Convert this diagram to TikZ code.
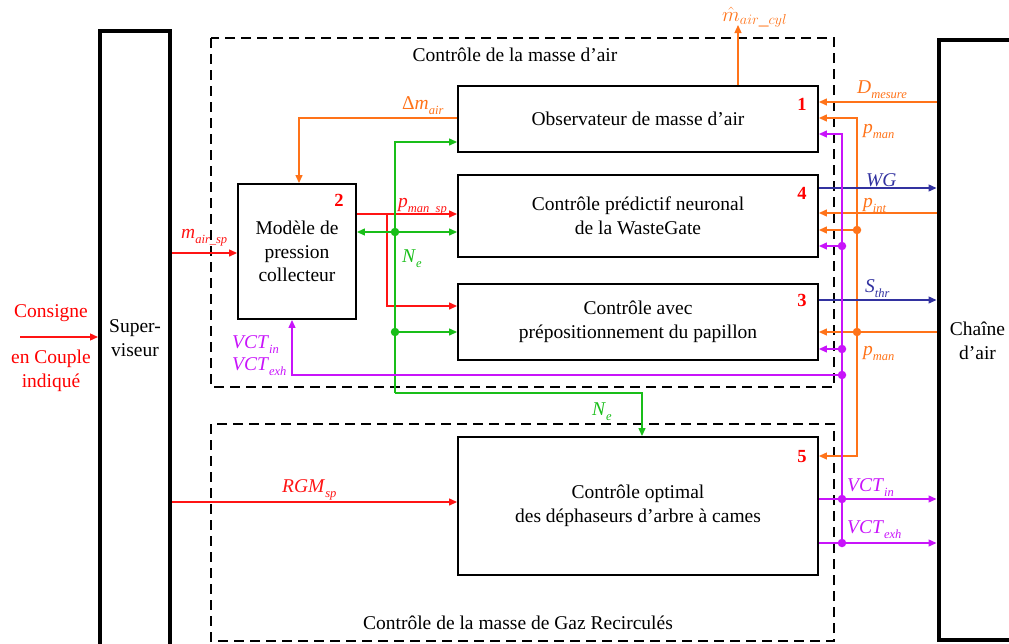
\documentclass[tikz,border=0pt]{standalone}
\usepackage{fontspec}
\setmainfont{Liberation Serif}
\usetikzlibrary{arrows.meta,positioning,calc}

\definecolor{SigRed}{RGB}{255,20,20}
\definecolor{SigOrange}{RGB}{255,115,25}
\definecolor{SigGreen}{RGB}{25,190,25}
\definecolor{SigViolet}{RGB}{200,20,250}
\definecolor{SigBlue}{RGB}{50,50,160}

\newcommand{\sgl}[2]{\textit{#1}\raisebox{-5pt}{\fontsize{12.5}{13}\selectfont\itshape #2}}
\newcommand{\diagfont}{\fontsize{19.5}{23.5}\selectfont}

\begin{document}
\begin{tikzpicture}[x=1pt, y=-1pt, font=\diagfont,
    blk/.style={draw, line width=1.9pt, minimum width=360pt, align=center, inner sep=0pt},
    heavybox/.style={draw, line width=4pt, inner sep=0pt},
    zone/.style={draw, line width=2.5pt, dash pattern=on 10pt off 6pt},
    arr/.style={-{Triangle[length=8pt,width=7pt]}},
    wire/.style={line width=1.3pt},
    num/.style={text=red, font=\fontsize{18.5}{20}\selectfont\bfseries, anchor=base},
    lbl/.style={anchor=base west, inner sep=0pt},
    dot/.style={circle, fill, inner sep=0pt, minimum size=8.5pt}]
    \useasboundingbox (0,0) rectangle (1009,643);

    % zones
    \draw[zone] (211,38) rectangle (834,387);
    \draw[zone] (211,424) rectangle (834,641);
    \node (tAir) at (515,55) {Contrôle de la masse d'air};
    \node (tGaz) at (518,623) {Contrôle de la masse de Gaz Recirculés};

    % blocks
    \node[heavybox, minimum width=70pt, minimum height=629pt] (sup) at (135,345.5) {};
    \node[align=center] (supT) at (135,338) {Super-\\viseur};
    \node[heavybox, minimum width=92pt, minimum height=600pt] (chaine) at (984.5,340) {};
    \node[align=center] (chT) at (977.5,341) {Chaîne\\d'air};
    \node[blk, minimum height=66pt] (obs) at (638,119) {Observateur de masse d'air};
    \node[blk, minimum height=82pt] (pred) at (638,216) {Contrôle prédictif neuronal\\de la WasteGate};
    \node[blk, minimum height=76pt] (papi) at (638,322) {Contrôle avec\\prépositionnement du papillon};
    \node[blk, minimum height=138pt] (cam) at (638,506) {Contrôle optimal\\des déphaseurs d'arbre à cames};
    \node[blk, minimum width=118pt, minimum height=135pt] (modele) at (297,251.5) {Modèle de\\pression\\collecteur};
    \node[num] (n1) at (802,110) {1};
    \node[num] (n2) at (339,206) {2};
    \node[num] (n4) at (802,199) {4};
    \node[num] (n3) at (802,306) {3};
    \node[num] (n5) at (802,462) {5};

    % consigne
    \coordinate (consIn) at (20,337);
    \draw[wire, arr, SigRed] (consIn) -- (sup.west |- consIn);
    \node[anchor=base, text=red] (consA) at (51,317) {Consigne};
    \node[anchor=base, text=red] (consB) at (51,363) {en Couple};
    \node[anchor=base, text=red] (consC) at (51,387) {indiqué};

    % setpoints from superviseur
    \draw[wire, arr, SigRed] (sup.east |- 0,253) -- (modele.west |- 0,253);
    \node[lbl, SigRed] (mLbl) at (181,238) {\sgl{m}{air\_sp}};
    \draw[wire, arr, SigRed] (sup.east |- 0,502) -- (cam.west |- 0,502);
    \node[lbl, SigRed] (rgmLbl) at (282,492) {\sgl{RGM}{sp}};

    % p_man_sp
    \coordinate (rA) at (387,214);
    \draw[wire, arr, SigRed] (modele.east |- rA) -- (pred.west |- rA);
    \draw[wire, arr, SigRed] (rA) -- (rA |- 0,306) -- (papi.west |- 0,306);
    \node[lbl, SigRed] (pspLbl) at (398,207) {\sgl{p}{man\_sp}};

    % delta m_air and estimated mass
    \draw[wire, arr, SigOrange] (obs.west |- 0,118) -- (299,118) -- (modele.north -| 299,0);
    \node[lbl, SigOrange] (dmLbl) at (402,109) {Δ\sgl{m}{air}};
    \coordinate (mOut) at (738,25);
    \draw[wire, arr, SigOrange] (obs.north -| mOut) -- (mOut);
    \node[lbl, SigOrange] (mhLbl) at (722,21) {$\hat{m}_{air\_cyl}$};

    % engine speed
    \node[dot, SigGreen] (gA) at (395,232) {};
    \node[dot, SigGreen] (gB) at (395,332) {};
    \coordinate (gTop) at (395,142);
    \coordinate (gBot) at (395,393);
    \draw[wire, arr, SigGreen] (gBot) -- (gTop) -- (obs.west |- gTop);
    \draw[wire, arr, SigGreen] (gBot) -- (gBot -| 642,0) -- (cam.north -| 642,0);
    \draw[wire, {Triangle[length=8pt,width=7pt]}-{Triangle[length=8pt,width=7pt]}, SigGreen] (modele.east |- gA) -- (pred.west |- gA);
    \draw[wire, arr, SigGreen] (gB) -- (papi.west |- gB);
    \node[lbl, SigGreen] (neA) at (402,262) {\sgl{N}{e}};
    \node[lbl, SigGreen] (neB) at (592,415) {\sgl{N}{e}};

    % measures from chaine d'air
    \draw[wire, arr, SigOrange] (chaine.west |- 0,102) -- (obs.east |- 0,102);
    \node[lbl, SigOrange] (dmsLbl) at (857,93) {\sgl{D}{mesure}};
    \draw[wire, arr, SigOrange] (chaine.west |- 0,213) -- (pred.east |- 0,213);
    \node[lbl, SigOrange] (pintLbl) at (863,207) {\sgl{p}{int}};
    \node[dot, SigOrange] (oA) at (857,230) {};
    \node[dot, SigOrange] (oB) at (857,332) {};
    \draw[wire, arr, SigOrange] (chaine.west |- oB) -- (papi.east |- oB);
    \draw[wire, arr, SigOrange] (oB) -- (oB |- 0,118) -- (obs.east |- 0,118);
    \draw[wire, arr, SigOrange] (oB) -- (oB |- 0,456) -- (cam.east |- 0,456);
    \draw[wire, arr, SigOrange] (oA) -- (pred.east |- oA);
    \node[lbl, SigOrange] (pmA) at (863,133) {\sgl{p}{man}};
    \node[lbl, SigOrange] (pmB) at (863,355) {\sgl{p}{man}};

    % actuators
    \draw[wire, arr, SigBlue] (pred.east |- 0,188) -- (chaine.west |- 0,188);
    \node[lbl, SigBlue] (wgLbl) at (866,186) {\textit{WG}};
    \draw[wire, arr, SigBlue] (papi.east |- 0,300) -- (chaine.west |- 0,300);
    \node[lbl, SigBlue] (sthLbl) at (865,292) {\sgl{S}{thr}};

    % cam phasers
    \node[dot, SigViolet] (vA) at (842,246) {};
    \node[dot, SigViolet] (vB) at (842,349) {};
    \node[dot, SigViolet] (vC) at (842,375) {};
    \node[dot, SigViolet] (vD) at (842,499) {};
    \node[dot, SigViolet] (vE) at (842,543) {};
    \draw[wire, arr, SigViolet] (cam.east |- vD) -- (chaine.west |- vD);
    \draw[wire, arr, SigViolet] (cam.east |- vE) -- (chaine.west |- vE);
    \draw[wire, arr, SigViolet] (vE) -- (vE |- 0,134) -- (obs.east |- 0,134);
    \draw[wire, arr, SigViolet] (vA) -- (pred.east |- vA);
    \draw[wire, arr, SigViolet] (vB) -- (papi.east |- vB);
    \draw[wire, arr, SigViolet] (vC) -- (vC -| 292,0) -- (modele.south -| 292,0);
    \node[lbl, SigViolet] (vinA) at (847,491) {\sgl{VCT}{in}};
    \node[lbl, SigViolet] (vexA) at (847,533) {\sgl{VCT}{exh}};
    \node[lbl, SigViolet] (vinB) at (232,348) {\sgl{VCT}{in}};
    \node[lbl, SigViolet] (vexB) at (232,370) {\sgl{VCT}{exh}};
\end{tikzpicture}
\end{document}
